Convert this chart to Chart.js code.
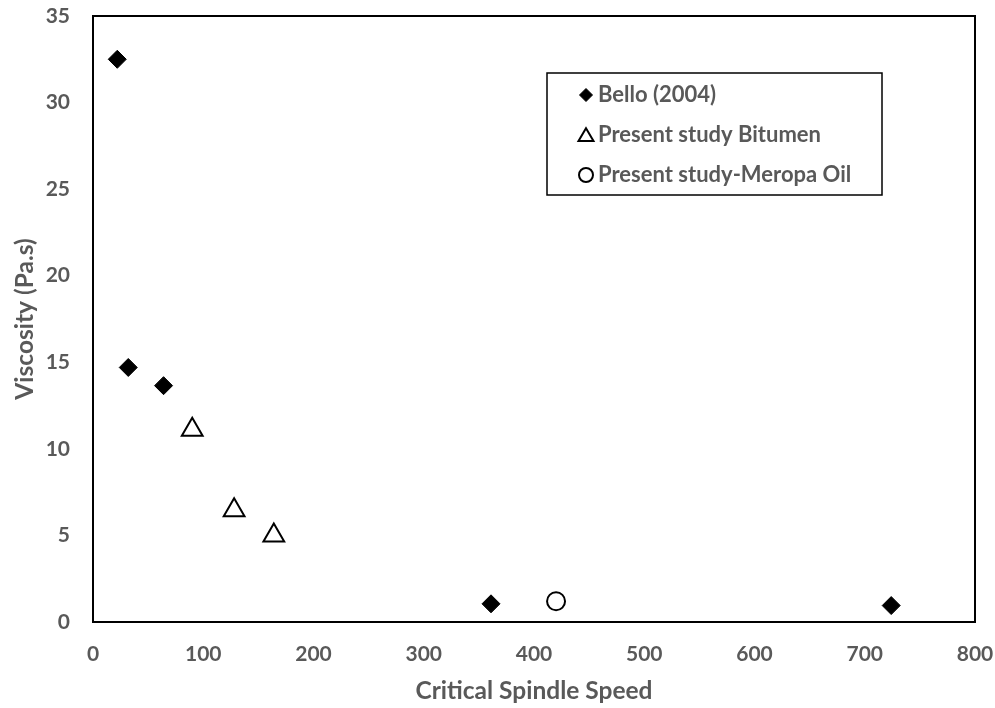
<!DOCTYPE html>
<html><head><meta charset="utf-8">
<script src="https://cdn.jsdelivr.net/npm/chart.js@4.4.1/dist/chart.umd.min.js"></script>
<style>html,body{margin:0;padding:0;background:#fff}</style></head>
<body>
<canvas id="c" width="995" height="708"></canvas>
<script>
const seriesNames = ['Bello (2004)', 'Present study Bitumen', 'Present study-Meropa Oil'];
const belloX = [22, 32, 64, 361, 724];
const belloY = [32.5, 14.7, 13.65, 1.05, 0.95];
const bitumenX = [90, 128, 164];
const bitumenY = [11.1, 6.45, 5.0];
const oilX = [420];
const oilY = [1.2];
const xTicks = [0, 100, 200, 300, 400, 500, 600, 700, 800];
const yTicks = [0, 5, 10, 15, 20, 25, 30, 35];
const xTitle = 'Critical Spindle Speed';
const yTitle = 'Viscosity (Pa.s)';

const FONT = 'Lato, "Open Sans", sans-serif';
const GREY = '#595959';
const toPts = (xs, ys) => xs.map((x, i) => ({x: x, y: ys[i]}));

const boxPlugin = {
  id: 'box',
  afterDatasetsDraw(chart) {
    const {ctx, chartArea: a} = chart;
    ctx.save();
    ctx.strokeStyle = '#000';
    ctx.lineWidth = 2;
    ctx.strokeRect(a.left, a.top, a.right - a.left, a.bottom - a.top);
    ctx.restore();
  }
};

function marker(ctx, style, x, y, r) {
  ctx.beginPath();
  if (style === 'rectRot') {
    ctx.moveTo(x, y - r); ctx.lineTo(x + r, y); ctx.lineTo(x, y + r); ctx.lineTo(x - r, y); ctx.closePath();
  } else if (style === 'triangle') {
    ctx.moveTo(x, y - r * 0.9); ctx.lineTo(x + r, y + r * 0.8); ctx.lineTo(x - r, y + r * 0.8); ctx.closePath();
  } else {
    ctx.arc(x, y, r, 0, Math.PI * 2);
  }
  ctx.fill(); ctx.stroke();
}

const legendPlugin = {
  id: 'customLegend',
  afterDraw(chart) {
    const ctx = chart.ctx;
    const bx = 547, by = 73, bw = 335, bh = 122;
    ctx.save();
    ctx.fillStyle = '#fff';
    ctx.fillRect(bx, by, bw, bh);
    ctx.strokeStyle = '#000';
    ctx.lineWidth = 1.5;
    ctx.strokeRect(bx, by, bw, bh);
    const rows = [95, 135, 175];
    const sizes = [6.5, 7.5, 7];
    chart.data.datasets.forEach((ds, i) => {
      ctx.fillStyle = ds.backgroundColor;
      ctx.strokeStyle = ds.borderColor;
      ctx.lineWidth = ds.pointStyle === 'rectRot' ? 1 : 2;
      marker(ctx, ds.pointStyle, 586, rows[i], sizes[i]);
      ctx.fillStyle = GREY;
      ctx.font = 'bold 22px ' + FONT;
      ctx.textBaseline = 'middle';
      ctx.textAlign = 'left';
      ctx.fillText(ds.label, 598, rows[i]);
    });
    ctx.restore();
  }
};

new Chart(document.getElementById('c'), {
  type: 'scatter',
  data: {
    datasets: [
      {label: seriesNames[0], data: toPts(belloX, belloY), pointStyle: 'rectRot', pointRadius: 9,
       backgroundColor: '#000', borderColor: '#000', borderWidth: 1, pointHoverRadius: 9},
      {label: seriesNames[1], data: toPts(bitumenX, bitumenY), pointStyle: 'triangle', pointRadius: 12,
       backgroundColor: '#fff', borderColor: '#000', borderWidth: 2, pointHoverRadius: 12},
      {label: seriesNames[2], data: toPts(oilX, oilY), pointStyle: 'circle', pointRadius: 9,
       backgroundColor: '#fff', borderColor: '#000', borderWidth: 2, pointHoverRadius: 9}
    ]
  },
  options: {
    responsive: false,
    animation: false,
    events: [],
    layout: {padding: {left: 0, right: 20, top: 16, bottom: 0}},
    plugins: {legend: {display: false}, tooltip: {enabled: false}},
    scales: {
      x: {
        type: 'linear', min: 0, max: 800,
        afterBuildTicks: s => { s.ticks = xTicks.map(v => ({value: v})); },
        afterFit: s => { s.height = 86; s.paddingLeft = 0; s.paddingRight = 0; },
        grid: {display: false, drawTicks: false},
        border: {display: false},
        ticks: {color: GREY, font: {family: FONT, size: 21, weight: 'bold'}, padding: 20, maxRotation: 0},
        title: {display: true, text: xTitle, color: GREY, font: {family: FONT, size: 24.5, weight: 'bold'}, padding: {top: 0, bottom: 2}}
      },
      y: {
        type: 'linear', min: 0, max: 35,
        afterBuildTicks: s => { s.ticks = yTicks.map(v => ({value: v})); },
        afterFit: s => { s.width = 93; s.paddingTop = 0; s.paddingBottom = 0; },
        grid: {display: false, drawTicks: false},
        border: {display: false},
        ticks: {color: GREY, font: {family: FONT, size: 21, weight: 'bold'}, padding: 23},
        title: {display: true, text: yTitle, color: GREY, font: {family: FONT, size: 24.5, weight: 'bold'}, padding: {top: 10, bottom: 0}}
      }
    }
  },
  plugins: [boxPlugin, legendPlugin]
});
</script>
</body></html>
